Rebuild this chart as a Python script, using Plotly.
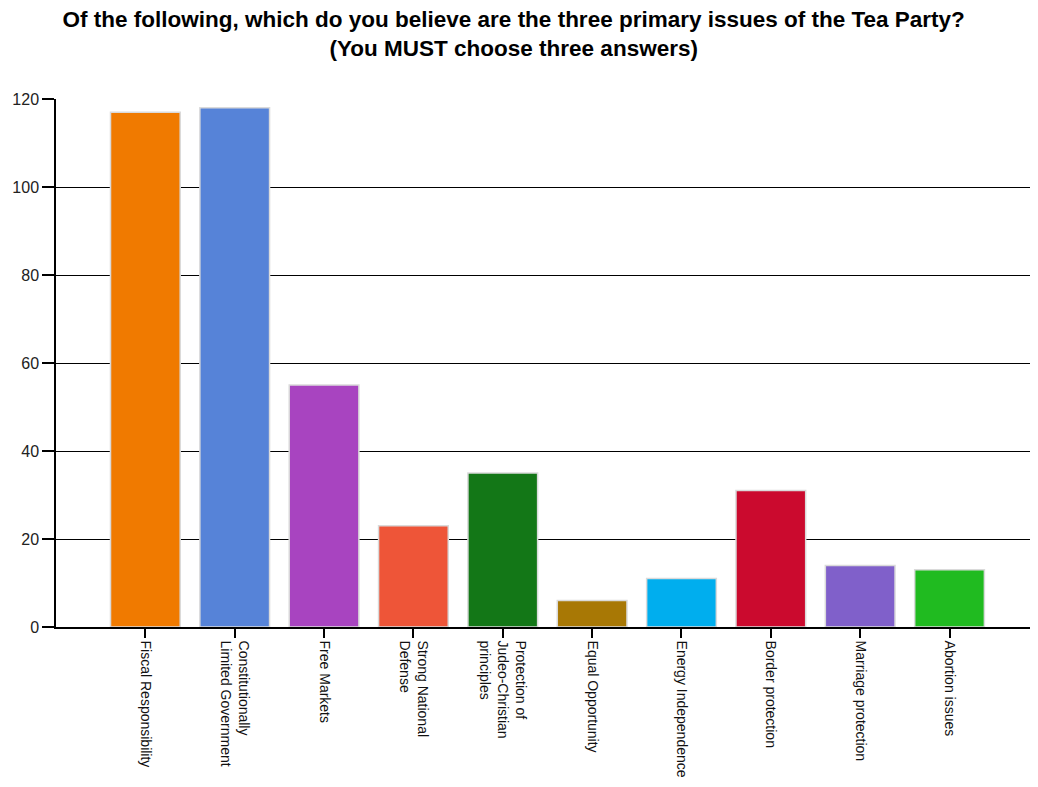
import plotly.graph_objects as go

categories = [
    "Fiscal Responsibility",
    "Constitutionally<br>Limited Government",
    "Free Markets",
    "Strong National<br>Defense",
    "Protection of<br>Judeo-Christian<br>principles",
    "Equal Opportunity",
    "Energy Independence",
    "Border protection",
    "Marriage protection",
    "Abortion issues",
]
values = [117, 118, 55, 23, 35, 6, 11, 31, 14, 13]
bar_colors = [
    "#F07A00", "#5683D8", "#A844C0", "#EE5538", "#137717",
    "#A87805", "#00AEEE", "#CB0A2E", "#8060CA", "#20BB20",
]
y_ticks = [0, 20, 40, 60, 80, 100, 120]

fig = go.Figure()
fig.add_trace(go.Bar(
    x=categories,
    y=values,
    width=0.78,
    marker=dict(color=bar_colors, line=dict(color="#DADADA", width=1.5)),
    hoverinfo="x+y",
))

fig.update_layout(
    width=1030,
    height=779,
    paper_bgcolor="white",
    plot_bgcolor="white",
    margin=dict(l=48, r=0, t=91, b=160, autoexpand=False),
    showlegend=False,
    font=dict(family="Arial, Liberation Sans, sans-serif", color="#222222"),
    title=dict(
        text="<b>Of the following, which do you believe are the three primary issues of the Tea Party?<br>(You MUST choose three answers)</b>",
        x=0.491,
        xanchor="center",
        xref="container",
        y=1 - 19 / 779,
        yanchor="middle",
        yref="container",
        font=dict(size=22.5, color="#000000"),
    ),
    bargap=0.22,
)

fig.update_xaxes(
    type="category",
    range=[-1, 9.99],
    tickangle=90,
    ticks="outside",
    ticklen=9,
    tickcolor="#000000",
    tickwidth=1.5,
    showline=True,
    linecolor="#000000",
    linewidth=1.5,
    showgrid=False,
    automargin=False,
    tickfont=dict(size=14, color="#111111"),
    fixedrange=True,
)
fig.update_yaxes(
    range=[0, 120],
    tickvals=y_ticks,
    ticks="outside",
    ticklen=12,
    tickcolor="#000000",
    tickwidth=1.5,
    showline=True,
    linecolor="#000000",
    linewidth=1.5,
    showgrid=True,
    gridcolor="#000000",
    gridwidth=1,
    zeroline=False,
    automargin=False,
    tickfont=dict(size=16, color="#222222"),
    fixedrange=True,
)

fig.write_html("out.html")
